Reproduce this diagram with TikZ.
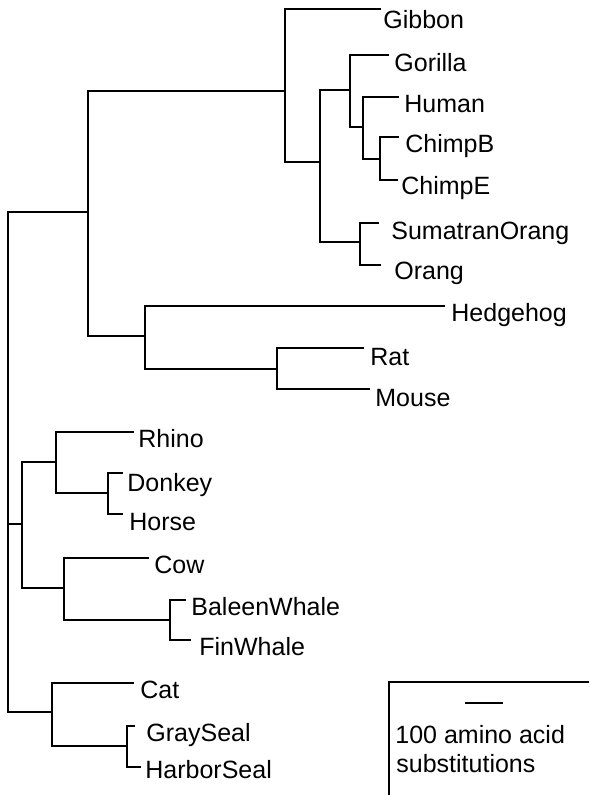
\documentclass[tikz,border=0pt]{standalone}
\usepackage{fontspec}
\setmainfont{Liberation Sans}
\tikzset{
  branch/.style={line width=0.8pt, draw=black, line cap=rect},
  taxon/.style={anchor=base west, inner sep=0pt, font=\fontsize{12.5}{15}\selectfont},
  legframe/.style={line width=0.6pt, draw=black},
  legbar/.style={line width=0.9pt, draw=black},
}
\begin{document}
\begin{tikzpicture}[x=0.5pt,y=-0.5pt]
\useasboundingbox (0,0) rectangle (589,795);
% internal nodes (x = depth, y = where the parent joins)
\coordinate (root) at (8,524);
\coordinate (euarch) at (88,212);
\coordinate (prim) at (285,91);
\coordinate (ape) at (320,162);
\coordinate (afr) at (350,90);
\coordinate (homchimp) at (363,127);
\coordinate (chimp) at (380,159);
\coordinate (pongo) at (360,242);
\coordinate (glires) at (145,336);
\coordinate (rodent) at (277,369);
\coordinate (laur) at (22,524);
\coordinate (peris) at (56,462);
\coordinate (equus) at (108,493);
\coordinate (cetart) at (64,588);
\coordinate (whale) at (170,620);
\coordinate (carn) at (52,712);
\coordinate (seal) at (127,746);
% tips
\coordinate (gibbonT) at (380,9);
\coordinate (gorillaT) at (388,55);
\coordinate (humanT) at (398,97);
\coordinate (chimpbT) at (398,137);
\coordinate (chimpeT) at (397,180);
\coordinate (sumatT) at (378,223);
\coordinate (orangT) at (380,265);
\coordinate (hedgeT) at (444,306);
\coordinate (ratT) at (363,348);
\coordinate (mouseT) at (369,389);
\coordinate (rhinoT) at (133,432);
\coordinate (donkeyT) at (122,473);
\coordinate (horseT) at (122,514);
\coordinate (cowT) at (148,558);
\coordinate (baleenT) at (185,600);
\coordinate (finT) at (190,640);
\coordinate (catT) at (133,683);
\coordinate (grayT) at (134,726);
\coordinate (harborT) at (140,767);
% branches
\draw[branch] (root) |- (euarch);
\draw[branch] (root) |- (laur);
\draw[branch] (root) |- (carn);
\draw[branch] (euarch) |- (prim);
\draw[branch] (euarch) |- (glires);
\draw[branch] (prim) |- (gibbonT);
\draw[branch] (prim) |- (ape);
\draw[branch] (ape) |- (afr);
\draw[branch] (ape) |- (pongo);
\draw[branch] (afr) |- (gorillaT);
\draw[branch] (afr) |- (homchimp);
\draw[branch] (homchimp) |- (humanT);
\draw[branch] (homchimp) |- (chimp);
\draw[branch] (chimp) |- (chimpbT);
\draw[branch] (chimp) |- (chimpeT);
\draw[branch] (pongo) |- (sumatT);
\draw[branch] (pongo) |- (orangT);
\draw[branch] (glires) |- (hedgeT);
\draw[branch] (glires) |- (rodent);
\draw[branch] (rodent) |- (ratT);
\draw[branch] (rodent) |- (mouseT);
\draw[branch] (laur) |- (peris);
\draw[branch] (laur) |- (cetart);
\draw[branch] (peris) |- (rhinoT);
\draw[branch] (peris) |- (equus);
\draw[branch] (equus) |- (donkeyT);
\draw[branch] (equus) |- (horseT);
\draw[branch] (cetart) |- (cowT);
\draw[branch] (cetart) |- (whale);
\draw[branch] (whale) |- (baleenT);
\draw[branch] (whale) |- (finT);
\draw[branch] (carn) |- (catT);
\draw[branch] (carn) |- (seal);
\draw[branch] (seal) |- (grayT);
\draw[branch] (seal) |- (harborT);
% taxon labels
\node[taxon] (gibbon) at (383,29) {Gibbon};
\node[taxon] (gorilla) at (394,72) {Gorilla};
\node[taxon] (human) at (404,113) {Human};
\node[taxon] (chimpb) at (405,153) {ChimpB};
\node[taxon] (chimpe) at (401,195) {ChimpE};
\node[taxon] (sumatran) at (391,240) {SumatranOrang};
\node[taxon] (orang) at (394,280) {Orang};
\node[taxon] (hedgehog) at (451,322) {Hedgehog};
\node[taxon] (rat) at (370,365) {Rat};
\node[taxon] (mouse) at (375,407) {Mouse};
\node[taxon] (rhino) at (138,447) {Rhino};
\node[taxon] (donkey) at (127,491) {Donkey};
\node[taxon] (horse) at (129,530) {Horse};
\node[taxon] (cow) at (154,573) {Cow};
\node[taxon] (baleen) at (191,615) {BaleenWhale};
\node[taxon] (finwhale) at (199,655) {FinWhale};
\node[taxon] (cat) at (140,698) {Cat};
\node[taxon] (grayseal) at (146,741) {GraySeal};
\node[taxon] (harborseal) at (145,778) {HarborSeal};
% scale legend
\coordinate (legTR) at (589,682);
\coordinate (legBL) at (389,795);
\draw[legframe] (legTR) -| (legBL);
\coordinate (barL) at (465,703);
\coordinate (barR) at (503,703);
\draw[legbar] (barL) -- (barR);
\node[taxon] (legA) at (395,743) {100 amino acid};
\node[taxon] (legB) at (396,772) {substitutions};
\end{tikzpicture}
\end{document}
